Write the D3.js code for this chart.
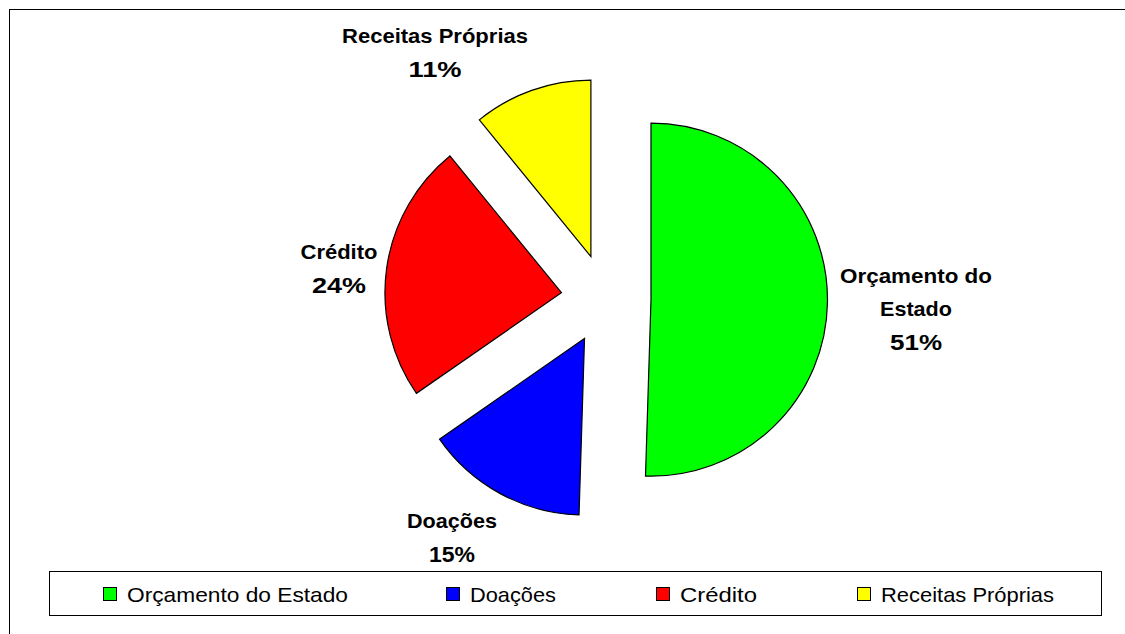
<!DOCTYPE html>
<html>
<head>
<meta charset="utf-8">
<script src="https://cdn.jsdelivr.net/npm/d3@7"></script>
<style>
  html, body { margin: 0; padding: 0; background: #fff; overflow: hidden; }
  svg { display: block; }
</style>
</head>
<body>
<svg id="chart" width="1125" height="634"></svg>
<script>
// ---- data ----
const categories = ["Orçamento do Estado", "Doações", "Crédito", "Receitas Próprias"];
const values = [51, 15, 24, 11];
const percentLabels = ["51%", "15%", "24%", "11%"];
const labelLines = [["Orçamento do", "Estado"], ["Doações"], ["Crédito"], ["Receitas Próprias"]];
const colors = ["#00FF00", "#0000FF", "#FF0000", "#FFFF00"];

// ---- layout ----
const W = 1125, H = 634;
const cx = 606, cy = 299, radius = 176.5, explode = 45;
const labelAnchors = [[916, 283], [452, 528], [339, 259], [435, 43]];
const labelWidths = [[152, 72, 52], [90, 46], [77, 54], [186, 53]];
const lineStep = 33;
const legendBox = { x: 49, y: 571, w: 1052, h: 44 };
const legendX = [103, 446, 656, 857];
const legendTextW = [221, 86, 77, 173];

const svg = d3.select("#chart");

// chart border
svg.append("rect")
  .attr("x", 9.5).attr("y", 9.5)
  .attr("width", W + 20).attr("height", H + 20)
  .attr("fill", "none").attr("stroke", "#000").attr("stroke-width", 1);

const pie = d3.pie().sort(null).value(d => d).startAngle(0).endAngle(2 * Math.PI);
const arcs = pie(values);
const arc = d3.arc().innerRadius(0).outerRadius(radius);

const g = svg.append("g").attr("transform", `translate(${cx},${cy})`);

g.selectAll("path.slice")
  .data(arcs)
  .join("path")
  .attr("class", "slice")
  .attr("transform", d => {
    const mid = (d.startAngle + d.endAngle) / 2;
    return `translate(${Math.sin(mid) * explode},${-Math.cos(mid) * explode})`;
  })
  .attr("d", arc)
  .attr("fill", (d, i) => colors[i])
  .attr("stroke", "#000")
  .attr("stroke-width", 1.2)
  .attr("stroke-linejoin", "miter");

// data labels
const labelFont = "'Liberation Sans', Arial, sans-serif";
arcs.forEach((d, i) => {
  const [lx, ly] = labelAnchors[i];
  const lines = labelLines[i].concat([percentLabels[i]]);
  lines.forEach((t, j) => {
    const isPct = j === lines.length - 1;
    svg.append("text")
      .attr("x", lx)
      .attr("y", ly + j * lineStep + (isPct ? 1 : 0))
      .attr("text-anchor", "middle")
      .attr("font-family", labelFont)
      .attr("font-weight", "bold")
      .attr("font-size", isPct ? 22 : 21)
      .attr("fill", "#000")
      .attr("textLength", labelWidths[i][j])
      .attr("lengthAdjust", "spacingAndGlyphs")
      .text(t);
  });
});

// legend
svg.append("rect")
  .attr("x", legendBox.x + 0.5).attr("y", legendBox.y + 0.5)
  .attr("width", legendBox.w).attr("height", legendBox.h)
  .attr("fill", "#fff").attr("stroke", "#000").attr("stroke-width", 1);

const leg = svg.append("g");
categories.forEach((c, i) => {
  leg.append("rect")
    .attr("x", legendX[i] + 0.5).attr("y", 587.5)
    .attr("width", 13).attr("height", 13)
    .attr("fill", colors[i]).attr("stroke", "#000").attr("stroke-width", 1);
  leg.append("text")
    .attr("x", legendX[i] + 24)
    .attr("y", 602)
    .attr("font-family", labelFont)
    .attr("font-size", 21)
    .attr("fill", "#000")
    .attr("textLength", legendTextW[i])
    .attr("lengthAdjust", "spacingAndGlyphs")
    .text(c);
});
</script>
</body>
</html>
